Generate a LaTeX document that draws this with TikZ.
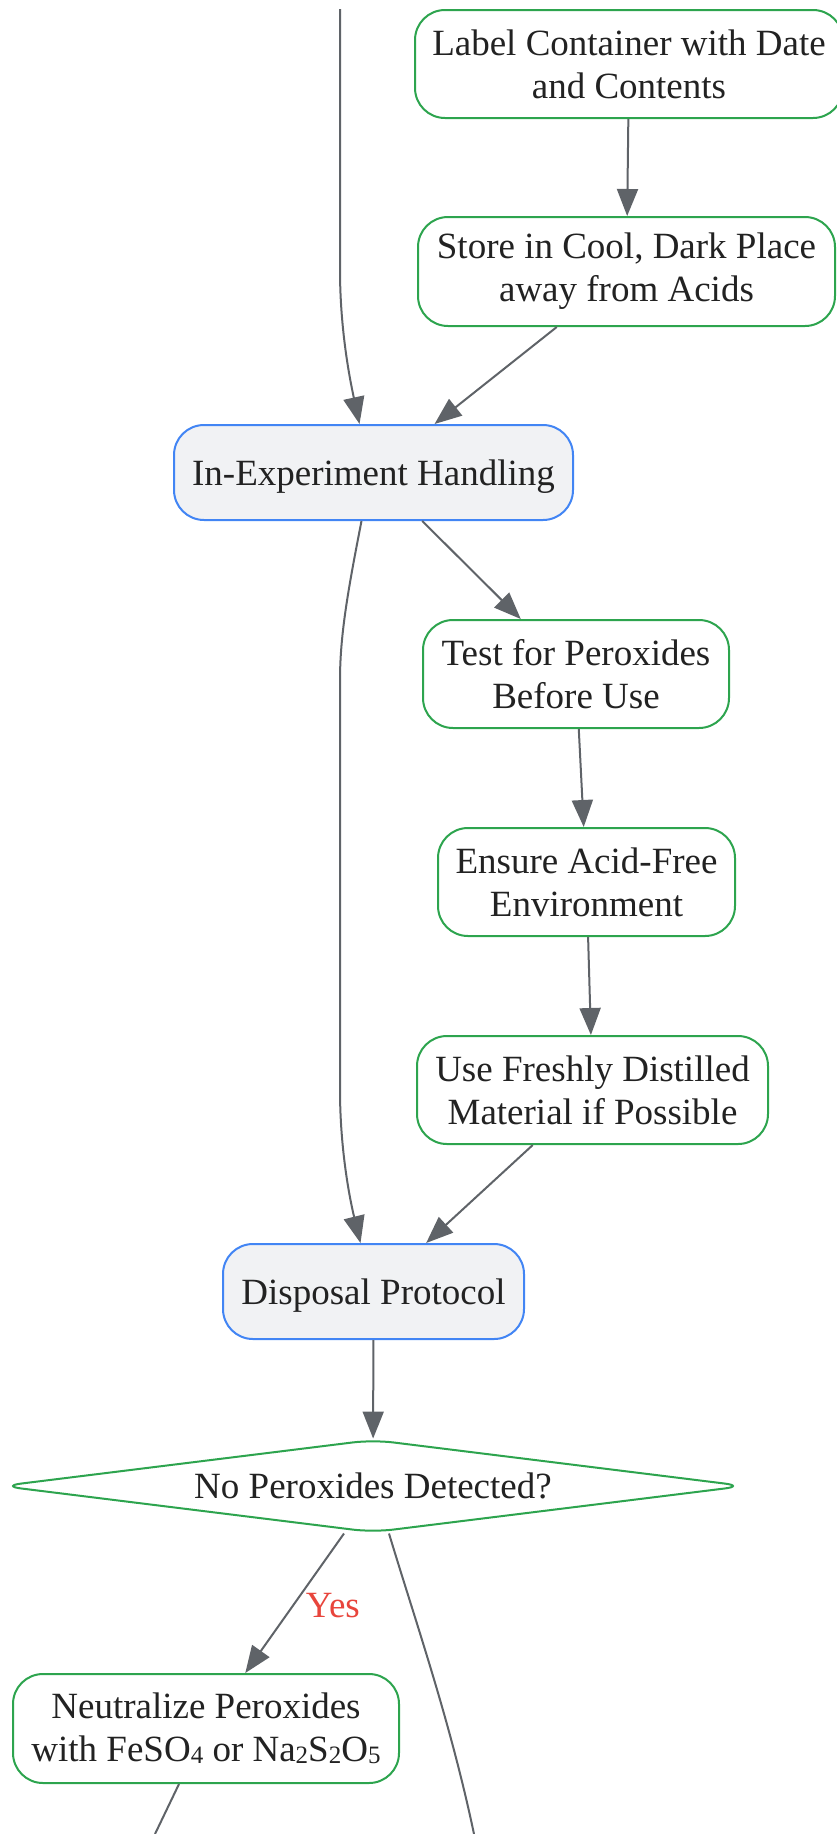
\documentclass[tikz,border=0pt]{standalone}
\usepackage{fontspec}
\setmainfont{Liberation Serif}
\usepackage{tikz}
\usetikzlibrary{arrows.meta,shapes.geometric,positioning}
\definecolor{ink}{HTML}{222222}
\definecolor{boxgreen}{HTML}{2DA44E}
\definecolor{phaseblue}{HTML}{4285F4}
\definecolor{phasegray}{HTML}{F1F2F4}
\definecolor{edgegray}{HTML}{5F6368}
\definecolor{yesred}{HTML}{E8453C}
\newcommand{\chemsub}[1]{\raisebox{-0.06em}{\fontsize{25}{25}\selectfont #1}}
\tikzstyle{task} = [rectangle, rounded corners=30pt, draw=boxgreen, line width=2pt, fill=white, text=ink, align=center, inner sep=0pt]
\tikzstyle{phase} = [rectangle, rounded corners=30pt, draw=phaseblue, line width=2pt, fill=phasegray, text=ink, align=center, inner sep=0pt, text height=33pt, text depth=8pt]
\tikzstyle{decision} = [diamond, aspect=7.9, rounded corners=20pt, draw=boxgreen, line width=2pt, fill=white, text=ink, inner sep=0pt, text height=33pt, text depth=8pt]
\tikzstyle{arrow} = [line width=2pt, draw=edgegray, -{Triangle[length=27pt,width=21pt]}]
\tikzstyle{plain} = [line width=2pt, draw=edgegray]
\tikzstyle{yeslabel} = [text=yesred]

\begin{document}
\begin{tikzpicture}[x=1pt, y=-1pt, font=\fontsize{37}{43}\selectfont]
                \useasboundingbox (0,0) rectangle (837,1834);
                \node [task, minimum width=428pt, minimum height=108pt] (label) at (629,64) {Label Container with Date\\and Contents};
                \node [task, minimum width=417pt, minimum height=109pt] (store) at (626.5,271.5) {Store in Cool, Dark Place\\away from Acids};
                \node [phase, minimum width=399pt, minimum height=95pt] (handling) at (373.5,472.5) {In-Experiment Handling};
                \node [task, minimum width=306pt, minimum height=108pt] (test) at (576,674) {Test for Peroxides\\Before Use};
                \node [task, minimum width=297pt, minimum height=108pt] (acidfree) at (586.5,882) {Ensure Acid-Free\\Environment};
                \node [task, minimum width=351pt, minimum height=108pt] (fresh) at (592.5,1090) {Use Freshly Distilled\\Material if Possible};
                \node [phase, minimum width=301pt, minimum height=95pt] (disposal) at (373.5,1291.5) {Disposal Protocol};
                \node [decision, minimum width=744pt, minimum height=93pt] (check) at (373,1486) {No Peroxides Detected?};
                \node [task, minimum width=386pt, minimum height=109pt] (neutral) at (206,1728.5) {Neutralize Peroxides\\with FeSO\chemsub{4} or Na\chemsub{2}S\chemsub{2}O\chemsub{5}};
                \coordinate (topin) at (340,9);
                \coordinate (exitA) at (155,1834);
                \coordinate (exitB) at (474,1834);
                % connectors
                \draw [arrow] (topin) -- (340,270) .. controls (340,330) and (350,380) .. ([xshift=-14pt]handling.north);
                \draw [arrow] (label) -- (store);
                \draw [arrow] (store) -- (handling);
                \draw [arrow] (handling) -- (test);
                \draw [arrow] (test) -- (acidfree);
                \draw [arrow] (acidfree) -- (fresh);
                \draw [arrow] (fresh) -- (disposal);
                \draw [arrow] ([xshift=-12pt]handling.south) .. controls (348,590) and (340,635) .. (340,680) -- (340,1090) .. controls (340,1150) and (350,1200) .. ([xshift=-13pt]disposal.north);
                \draw [arrow] (disposal) -- (check);
                \draw [arrow] ([xshift=-29pt]check.south) -- node [yeslabel, pos=0.52, right=9pt] {Yes} (neutral);
                \draw [plain] ([xshift=16pt]check.south) .. controls (415,1620) and (450,1720) .. (exitB);
                \draw [plain] (neutral.south -| 179,0) -- (exitA);
            \end{tikzpicture}
\end{document}
